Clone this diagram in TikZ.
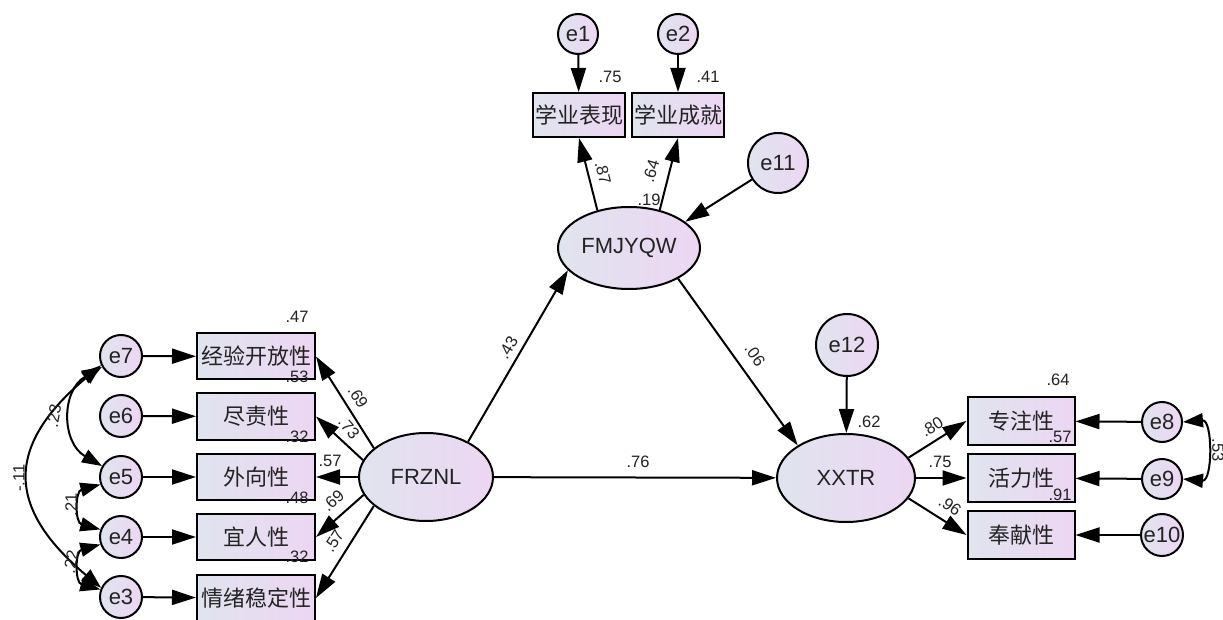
\documentclass[tikz,border=0pt]{standalone}
\usepackage{fontspec}
\setmainfont{Liberation Sans}
\newfontfamily\cjk{Noto Sans CJK SC}
\usetikzlibrary{shapes.geometric,arrows.meta}
\definecolor{fillL}{RGB}{224,228,238}
\definecolor{fillR}{RGB}{237,214,243}
\definecolor{txt}{RGB}{35,35,35}
\tikzset{
 base/.style={draw=black, line width=2pt, left color=fillL, right color=fillR, text=txt, font=\fontsize{22}{24}\selectfont, inner sep=0pt},
 errc/.style={base, circle, minimum size=42pt},
 errbig/.style={base, circle, minimum size=62pt},
 obs/.style={base, rectangle, minimum width=118pt, minimum height=46pt, font=\cjk\fontsize{22}{24}\selectfont},
 robs/.style={obs, minimum width=107pt, minimum height=48pt},
 tobs/.style={obs, minimum width=92pt, minimum height=44pt},
 lat/.style={base, ellipse, minimum width=138pt, minimum height=88pt},
 pathArrow/.style={line width=2pt, -{Triangle[length=24pt,width=15pt]}},
 cov/.style={line width=2pt, {Triangle[length=20pt,width=14pt]}-{Triangle[length=20pt,width=14pt]}},
 num/.style={font=\fontsize{16.5}{18}\selectfont, text=txt, inner sep=0pt},
}
\begin{document}
\begin{tikzpicture}[x=1pt,y=1pt]
\fill[white] (0,0) rectangle (1223,619);
\useasboundingbox (0,0) rectangle (1223,619);

% top
\node[errc, minimum size=40pt] (e1) at (578,585) {e1};
\node[errc, minimum size=40pt] (e2) at (678,585) {e2};
\node[tobs] (xyb) at (579,504) {学业表现};
\node[tobs] (xyc) at (678,504) {学业成就};
\node[errbig, minimum size=60pt] (e11) at (778,456) {e11};
\node[lat, minimum width=142pt, minimum height=82pt] (FM) at (629,371) {FMJYQW};

% middle
\node[lat, minimum width=134pt, minimum height=88pt] (FR) at (426,142) {FRZNL};
\node[lat] (XX) at (846,141) {XXTR};
\node[errbig] (e12) at (847,274) {e12};

% left
\node[errc] (e7) at (121,263) {e7};
\node[errc] (e6) at (121,203) {e6};
\node[errc] (e5) at (121,142) {e5};
\node[errc] (e4) at (121,82) {e4};
\node[errc] (e3) at (121,22) {e3};
\node[obs] (b1) at (256,262.5) {经验开放性};
\node[obs] (b2) at (256,202.5) {尽责性};
\node[obs] (b3) at (256,142) {外向性};
\node[obs] (b4) at (256,82) {宜人性};
\node[obs] (b5) at (256,21) {情绪稳定性};

% right
\node[robs] (r1) at (1021,198) {专注性};
\node[robs] (r2) at (1021,141) {活力性};
\node[robs] (r3) at (1021,84) {奉献性};
\node[errc, minimum size=40pt] (e8) at (1162,197) {e8};
\node[errc, minimum size=40pt] (e9) at (1162,140) {e9};
\node[errc] (e10) at (1162,84) {e10};

% paths
\draw[pathArrow] (e1) -- (xyb);
\draw[pathArrow] (e2) -- (xyc);
\draw[pathArrow] (FM.130) -- (xyb.south);
\draw[pathArrow] (FM.51) -- (xyc.south);
\draw[pathArrow] (e11) -- (FM.25);
\draw[pathArrow] (FR.40) -- (FM.200);
\draw[pathArrow] (FM.-32) -- (XX.146);
\draw[pathArrow] (FR) -- (XX);
\draw[pathArrow] (e12) -- (XX);

\draw[pathArrow] (FR.151) -- (b1.east);
\draw[pathArrow] (FR.165) -- (b2.east);
\draw[pathArrow] (FR.180) -- (b3.east);
\draw[pathArrow] (FR.196) -- (b4.east);
\draw[pathArrow] (FR.209) -- (b5.east);
\draw[pathArrow] (e7) -- (b1);
\draw[pathArrow] (e6) -- (b2);
\draw[pathArrow] (e5) -- (b3);
\draw[pathArrow] (e4) -- (b4);
\draw[pathArrow] (e3) -- (b5);

\draw[pathArrow] (XX.18) -- (r1.west);
\draw[pathArrow] (XX) -- (r2);
\draw[pathArrow] (XX.-18) -- (r3.west);
\draw[pathArrow] (e8) -- (r1);
\draw[pathArrow] (e9) -- (r2);
\draw[pathArrow] (e10) -- (r3);

% covariances
\draw[cov] (e7.210) to[out=210,in=150,looseness=1.22] (e5.150);
\draw[cov] (e7.205) to[out=220,in=140,looseness=1.44] (e3.155);
\draw[cov] (e5.200) to[out=195,in=165,looseness=1.5] (e4.160);
\draw[cov] (e4.200) to[out=195,in=165,looseness=1.5] (e3.160);
\draw[cov] (e8.0) to[out=5,in=-5,looseness=1.35] (e9.0);

% labels
\node[num] (l1) at (610,542) {.75};
\node[num] (l2) at (708,542) {.41};
\node[num, rotate=-76] (l3) at (603,446) {.87};
\node[num, rotate=74] (l4) at (651,448) {.64};
\node[num] (l5) at (649,419) {.19};
\node[num, rotate=60] (l6) at (508,271) {.43};
\node[num, rotate=-55] (l7) at (755,264) {.06};
\node[num] (l8) at (638,157) {.76};
\node[num] (l9) at (869,197) {.62};
\node[num] (l10) at (1058,239) {.64};
\node[num] (l11) at (1060,182) {.57};
\node[num] (l12) at (1060,124) {.91};
\node[num, rotate=32] (l13) at (932,192) {.80};
\node[num] (l14) at (940,157) {.75};
\node[num, rotate=-35] (l15) at (950,113) {.96};
\node[num, rotate=-90] (l16) at (1218,169) {.53};
\node[num] (l17) at (297,302) {.47};
\node[num] (l18) at (297,242) {.53};
\node[num] (l19) at (297,182) {.32};
\node[num] (l20) at (297,121) {.48};
\node[num] (l21) at (297,62) {.32};
\node[num, rotate=-58] (l22) at (358,222) {.69};
\node[num, rotate=-50] (l23) at (349,191) {.73};
\node[num] (l24) at (330,158) {.57};
\node[num, rotate=42] (l25) at (333,118) {.69};
\node[num, rotate=58] (l26) at (334,78) {.57};
\node[num, rotate=80] (l27) at (54,203) {.23};
\node[num, rotate=90] (l28) at (19,141) {-.11};
\node[num, rotate=90] (l29) at (71,114) {.21};
\node[num, rotate=80] (l30) at (71,57) {.22};
\end{tikzpicture}
\end{document}
